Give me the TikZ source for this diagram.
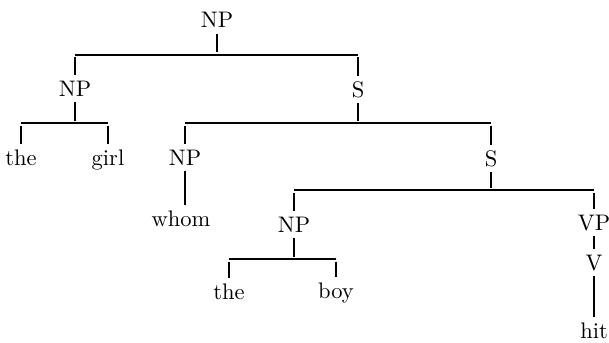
\documentclass[tikz,border=0pt]{standalone}
\usepackage{fontspec}
\setmainfont{lmroman10-regular}[Extension=.otf]
\usetikzlibrary{calc}
\begin{document}
\begin{tikzpicture}[x=1pt,y=-1pt,
  lab/.style={inner xsep=0pt, inner ysep=6pt, anchor=base,
              text height=15pt, text depth=0pt,
              font=\fontsize{22.5}{26}\selectfont},
  branch/.style={line width=1.1pt}]
\useasboundingbox (0,0) rectangle (609,342);

% category and word labels, placed on their baselines
\node[lab] (np0)  at (217,28)  {NP};
\node[lab] (np1)  at (75,96)   {NP};
\node[lab] (s1)   at (358,97)  {S};
\node[lab] (the1) at (21,165)  {the};
\node[lab] (girl) at (108,165) {girl};
\node[lab] (np2)  at (185,165) {NP};
\node[lab] (s2)   at (491,166) {S};
\node[lab] (whom) at (181,226) {whom};
\node[lab] (np3)  at (294,232) {NP};
\node[lab] (vp)   at (594,230) {VP};
\node[lab] (v)    at (594,270) {V};
\node[lab] (the2) at (229,299) {the};
\node[lab] (boy)  at (336,298) {boy};
\node[lab] (hit)  at (594,338) {hit};

% heights of the horizontal bars
\coordinate (y1) at (0,55);
\coordinate (y2) at (0,123);
\coordinate (y3) at (0,123);
\coordinate (y4) at (0,190);
\coordinate (y5) at (0,259);

% NP -> NP S
\draw[branch] (np0.south) -- ($(np0.south |- y1)+(0,-2.5)$);
\draw[branch] (np1 |- y1) -- (s1 |- y1);
\draw[branch] ($(np1.north |- y1)+(0,2.5)$) -- (np1.north);
\draw[branch] ($(s1.north |- y1)+(0,2.5)$) -- (s1.north);

% NP -> the girl
\draw[branch] (np1.south) -- ($(np1.south |- y2)+(0,-2.5)$);
\draw[branch] (the1 |- y2) -- (girl |- y2);
\draw[branch] ($(the1.north |- y2)+(0,2.5)$) -- (the1.north);
\draw[branch] ($(girl.north |- y2)+(0,2.5)$) -- (girl.north);

% S -> NP S
\draw[branch] (s1.south) -- ($(s1.south |- y3)+(0,-2.5)$);
\draw[branch] (np2 |- y3) -- (s2 |- y3);
\draw[branch] ($(np2.north |- y3)+(0,2.5)$) -- (np2.north);
\draw[branch] ($(s2.north |- y3)+(0,2.5)$) -- (s2.north);

% NP -> whom
\draw[branch] (np2.south) -- (np2.south |- whom.north);

% S -> NP VP
\draw[branch] (s2.south) -- ($(s2.south |- y4)+(0,-2.5)$);
\draw[branch] (np3 |- y4) -- (vp |- y4);
\draw[branch] ($(np3.north |- y4)+(0,2.5)$) -- (np3.north);
\draw[branch] ($(vp.north |- y4)+(0,2.5)$) -- (vp.north);

% NP -> the boy
\draw[branch] (np3.south) -- ($(np3.south |- y5)+(0,-2.5)$);
\draw[branch] (the2 |- y5) -- (boy |- y5);
\draw[branch] ($(the2.north |- y5)+(0,2.5)$) -- (the2.north);
\draw[branch] ($(boy.north |- y5)+(0,2.5)$) -- (boy.north);

% VP -> V -> hit
\draw[branch] (vp.south) -- (v.north);
\draw[branch] (v.south) -- (v.south |- hit.north);
\end{tikzpicture}
\end{document}
